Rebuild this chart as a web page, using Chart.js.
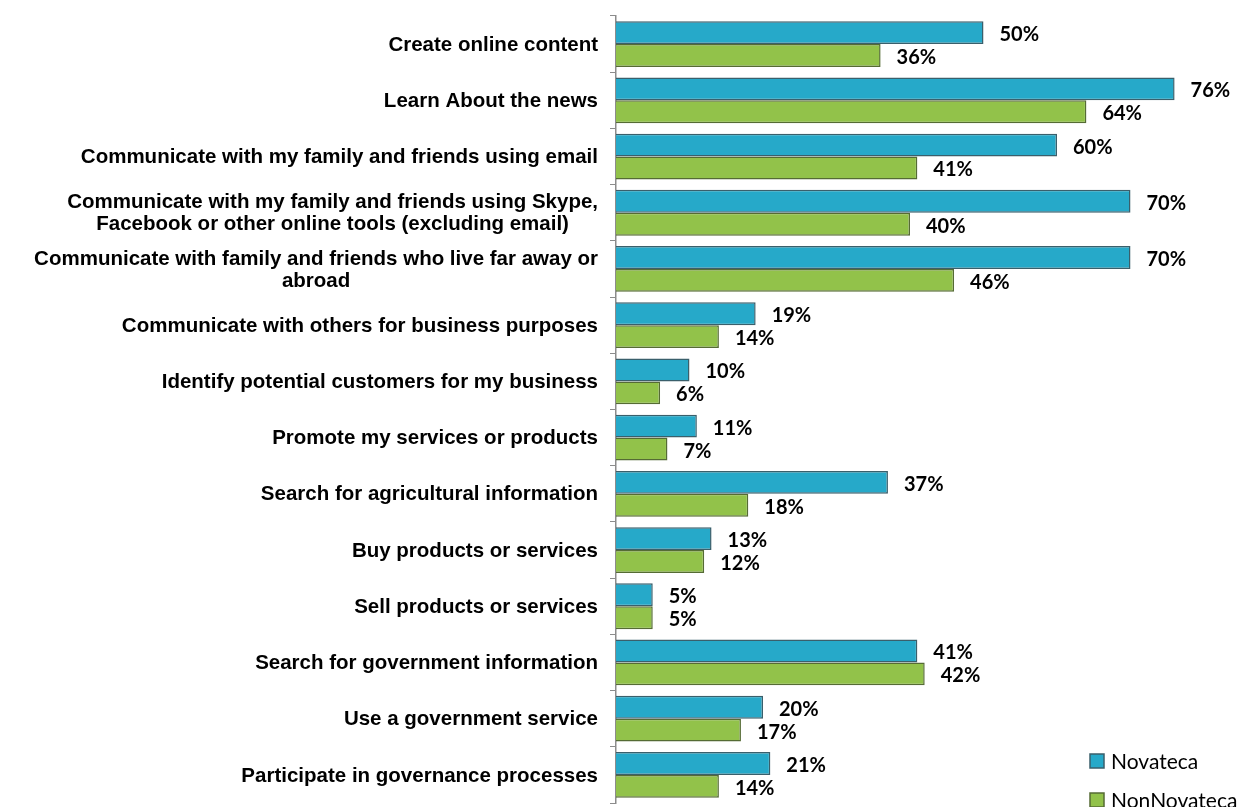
<!DOCTYPE html>
<html>
<head>
<meta charset="utf-8">
<script src="https://cdn.jsdelivr.net/npm/chart.js@4/dist/chart.umd.min.js"></script>
<style>
  html, body { margin: 0; padding: 0; background: #fff; }
  #wrap { position: relative; width: 1243px; height: 807px; }
</style>
</head>
<body>
<div id="wrap"><canvas id="c"></canvas></div>
<script>
const categories = [
  ["Create online content"],
  ["Learn About the news"],
  ["Communicate with my family and friends using email"],
  ["Communicate with my family and friends using Skype,", "Facebook or other online tools (excluding email)"],
  ["Communicate with family and friends who live far away or", "abroad"],
  ["Communicate with others for business purposes"],
  ["Identify potential customers for my business"],
  ["Promote my services or products"],
  ["Search for agricultural information"],
  ["Buy products or services"],
  ["Sell products or services"],
  ["Search for government information"],
  ["Use a government service"],
  ["Participate in governance processes"]
];
const seriesNames = ["Novateca", "NonNovateca"];
const novateca = [50, 76, 60, 70, 70, 19, 10, 11, 37, 13, 5, 41, 20, 21];
const nonNovateca = [36, 64, 41, 40, 46, 14, 6, 7, 18, 12, 5, 42, 17, 14];

const colors = {
  fill: ["#26A9C9", "#92C24A"],
  border: ["#3A5F6B", "#556B34"]
};

const AXIS_LEFT = 616;
const LABEL_RIGHT = 598;

const labelPlugin = {
  id: 'customLabels',
  afterDraw(chart) {
    const ctx = chart.ctx;
    const y = chart.scales.y;
    ctx.save();
    ctx.fillStyle = '#000';
    ctx.font = 'bold 20.5px "Liberation Sans", Arial, sans-serif';
    ctx.textBaseline = 'middle';
    ctx.textAlign = 'center';
    const lh = 22;
    categories.forEach((lines, i) => {
      const cy = y.getPixelForValue(i) + 1;
      const maxW = Math.max(...lines.map(l => ctx.measureText(l).width));
      const cx = LABEL_RIGHT - maxW / 2;
      const y0 = cy - (lines.length - 1) * lh / 2;
      lines.forEach((l, k) => ctx.fillText(l, cx, y0 + k * lh));
    });
    ctx.font = 'bold 20px Lato, "Open Sans", sans-serif';
    ctx.textAlign = 'left';
    chart.data.datasets.forEach((ds, di) => {
      const meta = chart.getDatasetMeta(di);
      meta.data.forEach((bar, i) => {
        ctx.fillText(ds.data[i] + '%', bar.x + 16, bar.y + 2);
      });
    });
    ctx.font = '21px Lato, "Open Sans", sans-serif';
    const lx = 1090, ly = [761, 800];
    seriesNames.forEach((n, i) => {
      ctx.fillStyle = colors.fill[i];
      ctx.fillRect(lx, ly[i] - 7, 14, 14);
      ctx.strokeStyle = colors.border[i];
      ctx.lineWidth = 1.5;
      ctx.strokeRect(lx, ly[i] - 7, 14, 14);
      ctx.fillStyle = '#000';
      ctx.fillText(n, lx + 21, ly[i] + 1);
    });
    ctx.restore();
  }
};

new Chart(document.getElementById('c'), {
  type: 'bar',
  data: {
    labels: categories.map(c => c.join(' ')),
    datasets: [
      { label: seriesNames[0], data: novateca, backgroundColor: colors.fill[0], borderColor: colors.border[0], borderWidth: 1.5 },
      { label: seriesNames[1], data: nonNovateca, backgroundColor: colors.fill[1], borderColor: colors.border[1], borderWidth: 1.5 }
    ]
  },
  options: {
    indexAxis: 'y',
    responsive: true,
    maintainAspectRatio: false,
    animation: false,
    layout: { padding: { top: 16, bottom: 4, right: 39, left: 0 } },
    datasets: { bar: { categoryPercentage: 0.815, barPercentage: 1 } },
    plugins: { legend: { display: false }, tooltip: { enabled: false } },
    scales: {
      x: { display: false, min: 0, max: 80 },
      y: {
        offset: true,
        ticks: { display: false },
        grid: { display: true, drawOnChartArea: false, offset: true, tickLength: 6, color: '#8c8c8c', lineWidth: 1 },
        border: { display: true, color: '#8c8c8c', width: 1.5 },
        afterFit(scale) { scale.width = AXIS_LEFT; }
      }
    }
  },
  plugins: [labelPlugin]
});
</script>
</body>
</html>
